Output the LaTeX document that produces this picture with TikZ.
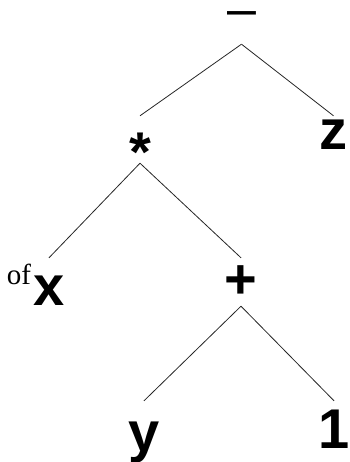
\documentclass[tikz,border=0pt]{standalone}
\usepackage{fontspec}
\setmainfont{Liberation Serif}
\setsansfont{Liberation Sans}
\usetikzlibrary{positioning}

\begin{document}
\begin{tikzpicture}[x=1pt, y=1pt,
  op/.style={inner sep=0pt, font=\sffamily\bfseries\fontsize{56}{56}\selectfont},
  leaf/.style={inner sep=0pt, font=\sffamily\bfseries\fontsize{56}{56}\selectfont},
  sup/.style={inner sep=0pt, font=\rmfamily\fontsize{29}{29}\selectfont},
  edge/.style={line width=0.8pt, draw=black!85}
]
\useasboundingbox (0,0) rectangle (349,462);

% operators
\node[op, font=\sffamily\fontsize{52}{52}\selectfont, minimum height=68] (minus)
      at (241.5, 452) {\raisebox{-16.5pt}[0pt][0pt]{–}};
\node[op, minimum height=47] (times)
      at (140, 322.5) {\raisebox{-32pt}[0pt][0pt]{*}};
\node[op, minimum height=48] (plus) at (241, 180) {+};

% leaves
\node[leaf, minimum height=38] (z) at (333.5, 327) {z};
\node[leaf, minimum height=66] (x) at (49, 171) {x};
\node[sup, anchor=base east] (of) at ([xshift=-2, yshift=21]x.base west) {of};
\node[leaf, minimum height=84] (y) at (144, 19) {y};
\node[leaf, minimum height=57] (one) at (334, 32.5) {1};

\draw[edge] (minus.south) -- (times.north);
\draw[edge] (minus.south) -- (z.north);
\draw[edge] (times.south) -- (x.north);
\draw[edge] (times.south) -- (plus.north);
\draw[edge] (plus.south) -- (y.north);
\draw[edge] (plus.south) -- (one.north);
\end{tikzpicture}
\end{document}
